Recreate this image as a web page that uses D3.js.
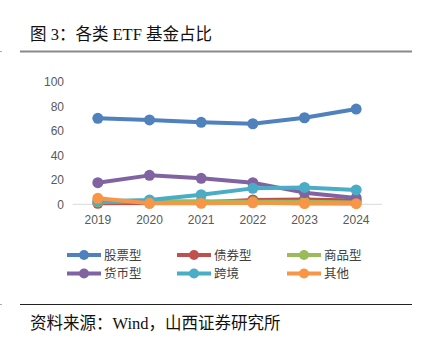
<!DOCTYPE html>
<html>
<head>
<meta charset="utf-8">
<script src="https://cdn.jsdelivr.net/npm/d3@7/dist/d3.min.js"></script>
<style>
  html, body { margin: 0; padding: 0; background: #fff; }
  svg { display: block; }
</style>
</head>
<body>
<script>
// ETF fund share by type, 2019–2024 (%)
const years = ["2019", "2020", "2021", "2022", "2023", "2024"];
const seriesNames = ["股票型", "债券型", "商品型", "货币型", "跨境", "其他"];
const stockValues     = [70.1, 68.8, 66.9, 65.7, 70.6, 77.7];
const bondValues      = [0.8, 1.0, 1.5, 3.5, 4.0, 3.0];
const commodityValues = [2.0, 2.5, 2.5, 2.0, 2.0, 1.5];
const moneyValues     = [17.6, 23.6, 21.2, 17.6, 9.5, 5.2];
const crossValues     = [2.5, 3.5, 7.8, 13.0, 13.8, 11.7];
const otherValues     = [4.9, 0.8, 0.8, 1.2, 0.6, 0.5];
const yTicks = [0, 20, 40, 60, 80, 100];

const colors = ["#4f81bd", "#c0504d", "#9bbb59", "#8064a2", "#4bacc6", "#f79646"];
const allValues = [stockValues, bondValues, commodityValues, moneyValues, crossValues, otherValues];
const series = seriesNames.map((name, i) => ({ name, color: colors[i], values: allValues[i] }));

const W = 422, H = 348;
const svg = d3.select("body").append("svg").attr("width", W).attr("height", H);

const serif = "'Liberation Serif', 'Noto Sans CJK SC', serif";
const sans = "'Noto Sans CJK SC', 'Liberation Sans', sans-serif";

// Title and rules
svg.append("text").attr("x", 30).attr("y", 39.5)
  .attr("font-family", serif).attr("font-size", 16.5).attr("fill", "#111")
  .text("图 3：各类 ETF 基金占比");
svg.append("line").attr("x1", 20).attr("x2", 412).attr("y1", 51.5).attr("y2", 51.5)
  .attr("stroke", "#8a8a8a").attr("stroke-width", 2);
svg.append("rect").attr("x", 0).attr("y", 51).attr("width", 2).attr("height", 1).attr("fill", "#aaa");

svg.append("line").attr("x1", 20).attr("x2", 412).attr("y1", 304.5).attr("y2", 304.5)
  .attr("stroke", "#222").attr("stroke-width", 1);
svg.append("rect").attr("x", 0).attr("y", 304).attr("width", 2).attr("height", 1).attr("fill", "#aaa");
svg.append("text").attr("x", 30).attr("y", 329)
  .attr("font-family", serif).attr("font-size", 16.5).attr("fill", "#111")
  .text("资料来源：Wind，山西证券研究所");

// Scales
const x = d3.scaleBand().domain(years).range([72, 382]);
const y = d3.scaleLinear().domain([0, 100]).range([204.3, 81.7]);

// Y axis labels
const yAxis = svg.append("g").attr("transform", "translate(64,0)")
  .call(d3.axisLeft(y).tickValues(yTicks).tickSize(0).tickPadding(0));
yAxis.select(".domain").remove();
yAxis.selectAll("text").attr("font-family", "'Liberation Sans', Arial, sans-serif")
  .attr("font-size", 12).attr("fill", "#595959");

// X axis baseline and labels
const xAxis = svg.append("g").attr("transform", "translate(0,204.3)")
  .call(d3.axisBottom(x).tickSize(0).tickPadding(11));
xAxis.select(".domain").attr("stroke", "#d9d9d9").attr("stroke-width", 1)
  .attr("d", "M72.5,0H382");
xAxis.selectAll("text").attr("font-family", "'Liberation Sans', Arial, sans-serif")
  .attr("font-size", 12).attr("fill", "#595959");

// Lines with markers
const cx = d => x(d) + x.bandwidth() / 2;
const line = d3.line().x((v, i) => cx(years[i])).y(v => y(v));

const g = svg.append("g");
series.forEach(s => {
  const sg = g.append("g");
  sg.append("path").attr("d", line(s.values)).attr("fill", "none")
    .attr("stroke", s.color).attr("stroke-width", 4).attr("stroke-linejoin", "round");
  sg.selectAll("circle").data(s.values).join("circle")
    .attr("cx", (v, i) => cx(years[i])).attr("cy", v => y(v)).attr("r", 5.5)
    .attr("fill", s.color);
});

// Legend
const legX = [67, 177, 287];
const legY = [255, 273.5];
series.forEach((s, i) => {
  const lx = legX[i % 3], ly = legY[Math.floor(i / 3)];
  const lg = svg.append("g");
  lg.append("line").attr("x1", lx).attr("x2", lx + 34).attr("y1", ly).attr("y2", ly)
    .attr("stroke", s.color).attr("stroke-width", 4);
  lg.append("circle").attr("cx", lx + 17).attr("cy", ly).attr("r", 5).attr("fill", s.color);
  lg.append("text").attr("x", lx + 37).attr("y", ly).attr("dy", "0.36em")
    .attr("font-family", sans).attr("font-size", 12.5).attr("fill", "#404040")
    .text(s.name);
});
</script>
</body>
</html>
